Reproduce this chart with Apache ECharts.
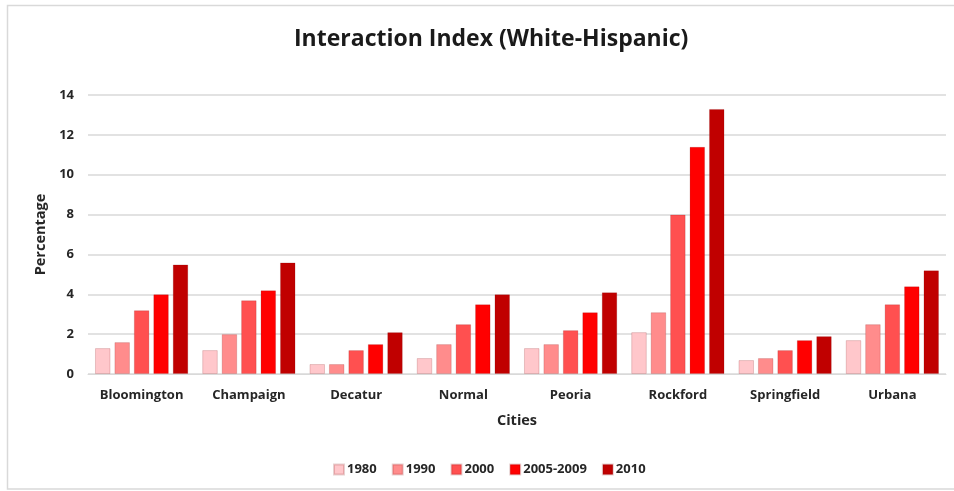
<!DOCTYPE html>
<html>
<head>
<meta charset="utf-8">
<script src="https://cdn.jsdelivr.net/npm/echarts@6/dist/echarts.min.js"></script>
<style>
  html, body { margin: 0; padding: 0; background: #ffffff; }
  #chart { width: 954px; height: 491px; }
</style>
</head>
<body>
<div id="chart"></div>
<script>
// Cities on the category axis
const cities = ['Bloomington', 'Champaign', 'Decatur', 'Normal', 'Peoria', 'Rockford', 'Springfield', 'Urbana'];

// Interaction index (percentage) per period
const years = ['1980', '1990', '2000', '2005-2009', '2010'];
const v1980 = [1.3, 1.2, 0.5, 0.8, 1.3, 2.1, 0.7, 1.7];
const v1990 = [1.6, 2.0, 0.5, 1.5, 1.5, 3.1, 0.8, 2.5];
const v2000 = [3.2, 3.7, 1.2, 2.5, 2.2, 8.0, 1.2, 3.5];
const v2005 = [4.0, 4.2, 1.5, 3.5, 3.1, 11.4, 1.7, 4.4];
const v2010 = [5.5, 5.6, 2.1, 4.0, 4.1, 13.3, 1.9, 5.2];

const seriesValues = [v1980, v1990, v2000, v2005, v2010];
const colors = ['#FFC7CB', '#FF8C8C', '#FF5050', '#FF0000', '#C00000'];

const font = '"Open Sans", Lato, sans-serif';
const chart = echarts.init(document.getElementById('chart'));

chart.setOption({
  animation: false,
  color: colors,
  title: {
    text: 'Interaction Index (White-Hispanic)',
    left: 289,
    top: 23,
    textStyle: { fontFamily: font, fontWeight: 'bold', fontSize: 23, color: '#1a1a1a' }
  },
  legend: {
    data: years,
    top: 458,
    left: 328,
    icon: 'rect',
    itemWidth: 10,
    itemHeight: 10,
    itemGap: 15,
    textStyle: { fontFamily: font, fontWeight: 'bold', fontSize: 13, color: '#262626', padding: [0, 0, 0, -2] }
  },
  graphic: [{
    type: 'rect',
    shape: { x: 7.5, y: 5.5, width: 980, height: 483.5 },
    style: { fill: 'none', stroke: '#d9d9d9', lineWidth: 1.5 },
    silent: true
  }],
  grid: { left: 88, right: 8, top: 95, bottom: 117 },
  xAxis: {
    type: 'category',
    data: cities,
    name: 'Cities',
    nameLocation: 'middle',
    nameGap: 39,
    nameTextStyle: { fontFamily: font, fontWeight: 'bold', fontSize: 14.5, color: '#262626' },
    axisLine: { lineStyle: { color: '#d9d9d9', width: 1 } },
    axisTick: { show: false },
    axisLabel: { interval: 0, fontFamily: font, fontWeight: 'bold', fontSize: 13, color: '#262626', margin: 15 }
  },
  yAxis: {
    type: 'value',
    min: 0,
    max: 14,
    interval: 2,
    name: 'Percentage',
    nameLocation: 'middle',
    nameGap: 39,
    nameTextStyle: { fontFamily: font, fontWeight: 'bold', fontSize: 14.5, color: '#262626' },
    axisLine: { show: false },
    axisTick: { show: false },
    splitLine: { lineStyle: { color: '#d9d9d9', width: 1.5 } },
    axisLabel: { fontFamily: font, fontWeight: 'bold', fontSize: 13, color: '#262626', margin: 14 }
  },
  series: years.map((name, i) => ({
    name: name,
    type: 'bar',
    data: seriesValues[i],
    barGap: '25%',
    barCategoryGap: '13%',
    itemStyle: { color: colors[i], borderColor: 'rgba(120,0,0,0.18)', borderWidth: 1 }
  }))
});
</script>
</body>
</html>
